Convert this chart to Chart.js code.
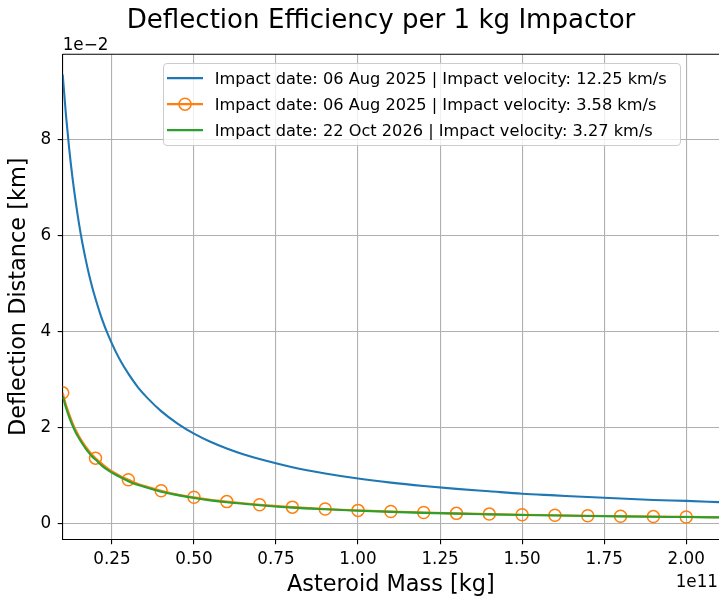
<!DOCTYPE html>
<html>
<head>
<meta charset="utf-8">
<script src="https://cdn.jsdelivr.net/npm/chart.js@4.4.1/dist/chart.umd.min.js"></script>
<style>
  html, body { margin: 0; padding: 0; background: #ffffff; overflow: hidden; }
  #wrap { position: relative; width: 719px; height: 598px; font-family: 'DejaVu Sans', sans-serif; color: #000; }
  #c { position: absolute; left: 0; top: 0; }
  #legend { position: absolute; left: 162.7px; top: 63.3px; width: 518px; height: 82.4px; box-sizing: border-box;
            border: 1px solid #cccccc; border-radius: 4px; background: rgba(255,255,255,0.8); }
  .row { position: absolute; left: 0; height: 26.3px; width: 100%; }
  .row svg { position: absolute; left: 3.6px; top: 0; }
  .row span { position: absolute; left: 51px; top: 0; line-height: 26.3px; font-size: 16.2px; white-space: nowrap; }
  .off { position: absolute; font-size: 16.8px; line-height: 16.8px; white-space: nowrap; }
</style>
</head>
<body>
<div id="wrap">
  <canvas id="c" width="719" height="598"></canvas>
  <div id="legend"></div>
  <div class="off" id="yoff" style="left:62.7px; top:35.8px;">1e−2</div>
  <div class="off" id="xoff" style="right:1px; top:572.9px;">1e11</div>
</div>
<script>
// ---- Data (x in units of 1e11 kg, y in units of 1e-2 km) ----
const massE11 = [0.10, 0.11, 0.12, 0.13, 0.14, 0.15, 0.16, 0.17, 0.18, 0.19, 0.20, 0.22, 0.24, 0.26, 0.28, 0.30,
                 0.33, 0.36, 0.40, 0.45, 0.50, 0.55, 0.60, 0.65, 0.70, 0.80, 0.90, 1.00, 1.10, 1.20, 1.30, 1.40,
                 1.50, 1.60, 1.70, 1.80, 1.90, 2.00, 2.10];
const blueDeflE2 = [9.35, 8.50, 7.79, 7.19, 6.68, 6.23, 5.84, 5.50, 5.19, 4.92, 4.68, 4.25, 3.90, 3.60, 3.34, 3.12,
                    2.83, 2.60, 2.34, 2.08, 1.87, 1.70, 1.56, 1.44, 1.34, 1.17, 1.04, 0.935, 0.85, 0.78, 0.72, 0.67,
                    0.62, 0.585, 0.55, 0.52, 0.49, 0.47, 0.445];
const orangeDeflE2 = [2.72, 2.47, 2.27, 2.09, 1.94, 1.81, 1.70, 1.60, 1.51, 1.43, 1.36, 1.24, 1.13, 1.05, 0.97, 0.91,
                      0.82, 0.76, 0.68, 0.60, 0.545, 0.495, 0.455, 0.42, 0.39, 0.34, 0.30, 0.272, 0.248, 0.227, 0.21, 0.195,
                      0.182, 0.17, 0.16, 0.151, 0.143, 0.136, 0.13];
const greenDeflE2 = [2.65, 2.41, 2.21, 2.04, 1.89, 1.77, 1.66, 1.56, 1.47, 1.39, 1.33, 1.20, 1.10, 1.02, 0.95, 0.88,
                     0.80, 0.74, 0.66, 0.59, 0.53, 0.48, 0.44, 0.41, 0.38, 0.33, 0.295, 0.265, 0.241, 0.221, 0.204, 0.19,
                     0.177, 0.166, 0.156, 0.147, 0.139, 0.133, 0.126];
const orangeMarkerMass = [0.1, 0.2, 0.3, 0.4, 0.5, 0.6, 0.7, 0.8, 0.9, 1.0, 1.1, 1.2, 1.3, 1.4, 1.5, 1.6, 1.7, 1.8, 1.9, 2.0];
const seriesLabels = [
  'Impact date: 06 Aug 2025 | Impact velocity: 12.25 km/s',
  'Impact date: 06 Aug 2025 | Impact velocity: 3.58 km/s',
  'Impact date: 22 Oct 2026 | Impact velocity: 3.27 km/s'
];
const xTickValues = [0.25, 0.50, 0.75, 1.00, 1.25, 1.50, 1.75, 2.00];
const yTickValues = [0, 2, 4, 6, 8];
const chartTitle = 'Deflection Efficiency per 1 kg Impactor';
const xTitle = 'Asteroid Mass [kg]';
const yTitle = 'Deflection Distance [km]';

// ---- Build ----
const colors = ['#1f77b4', '#ff7f0e', '#2ca02c'];
const FONT = "'DejaVu Sans', sans-serif";
const toPts = (ys) => massE11.map((m, i) => ({ x: m, y: ys[i] }));
const isMarker = (x) => orangeMarkerMass.some(v => Math.abs(v - x) < 1e-9);

const framePlugin = {
  id: 'frame',
  afterLayout(chart) {
    if (chart.titleBlock) { chart.titleBlock.left = 43; }
  },
  afterDraw(chart) {
    const { ctx, chartArea } = chart;
    ctx.save();
    ctx.strokeStyle = '#000';
    ctx.lineWidth = 1.1;
    ctx.beginPath();
    ctx.moveTo(chartArea.left, chartArea.top);
    ctx.lineTo(chartArea.right, chartArea.top);
    ctx.stroke();
    ctx.restore();
  }
};

Chart.defaults.font.family = FONT;
Chart.defaults.color = '#000';

const tickFont = { family: FONT, size: 16.8, weight: 'normal', lineHeight: 1.2 };

const chart = new Chart(document.getElementById('c'), {
  type: 'line',
  data: {
    datasets: [
      { label: seriesLabels[0], data: toPts(blueDeflE2), borderColor: colors[0], backgroundColor: colors[0],
        borderWidth: 2.1, pointRadius: 0, order: 3, clip: 0, cubicInterpolationMode: 'monotone', fill: false },
      { label: seriesLabels[1], data: toPts(orangeDeflE2), borderColor: colors[1], backgroundColor: colors[1],
        borderWidth: 2.1, order: 2, clip: 0, cubicInterpolationMode: 'monotone', fill: false,
        pointRadius: (c) => (c.raw && isMarker(c.raw.x)) ? 6 : 0,
        pointBorderWidth: 1.5, pointBorderColor: colors[1], pointBackgroundColor: 'rgba(0,0,0,0)' },
      { label: seriesLabels[2], data: toPts(greenDeflE2), borderColor: colors[2], backgroundColor: colors[2],
        borderWidth: 2.1, pointRadius: 0, order: 1, clip: 0, cubicInterpolationMode: 'monotone', fill: false }
    ]
  },
  options: {
    responsive: false,
    animation: false,
    devicePixelRatio: 1,
    events: [],
    layout: { padding: 0, autoPadding: false },
    plugins: {
      legend: { display: false },
      tooltip: { enabled: false },
      title: { display: true, text: chartTitle, color: '#000',
               font: { family: FONT, size: 26.1, weight: 'normal', lineHeight: 1.2 },
               padding: { top: 5.3, bottom: 17.7 } }
    },
    scales: {
      x: {
        type: 'linear', min: 0.1, max: 2.1,
        afterBuildTicks: (s) => { s.ticks = xTickValues.map(v => ({ value: v })); },
        afterFit: (s) => { s.height = 58.7; },
        ticks: { callback: (v) => Number(v).toFixed(2), font: tickFont, padding: 4.8, color: '#000',
                 maxRotation: 0, autoSkip: false },
        grid: { color: '#b0b0b0', lineWidth: 1.1, tickColor: '#000', tickLength: 5, tickWidth: 1.1 },
        border: { color: '#000', width: 1.1 },
        title: { display: true, text: xTitle, color: '#000', font: { family: FONT, size: 22.4, lineHeight: 1 },
                 padding: { top: 5.4, bottom: 1.8 } }
      },
      y: {
        type: 'linear', min: -0.33, max: 9.77,
        afterBuildTicks: (s) => { s.ticks = yTickValues.map(v => ({ value: v })); },
        afterFit: (s) => { s.width = 62.7; },
        ticks: { callback: (v) => String(Math.round(v)), font: tickFont, padding: 6.5, color: '#000' },
        grid: { color: '#b0b0b0', lineWidth: 1.1, tickColor: '#000', tickLength: 5, tickWidth: 1.1 },
        border: { color: '#000', width: 1.1 },
        title: { display: true, text: yTitle, color: '#000', font: { family: FONT, size: 22.4, lineHeight: 1 },
                 padding: { top: 8, bottom: 11.6 } }
      }
    }
  },
  plugins: [framePlugin]
});

// ---- Legend (HTML, built from the dataset labels) ----
const legend = document.getElementById('legend');
seriesLabels.forEach((lab, i) => {
  const row = document.createElement('div');
  row.className = 'row';
  row.style.top = (1.25 + i * 26.3) + 'px';
  const cy = 12.15;
  let svg = `<svg width="36" height="26.3" viewBox="0 0 36 26.3"><line x1="0" y1="${cy}" x2="36" y2="${cy}" stroke="${colors[i]}" stroke-width="2.1"/>`;
  if (i === 1) svg += `<circle cx="18" cy="${cy}" r="6" fill="none" stroke="${colors[i]}" stroke-width="1.5"/>`;
  svg += `</svg>`;
  row.innerHTML = svg + `<span></span>`;
  row.querySelector('span').textContent = lab;
  legend.appendChild(row);
});
</script>
</body>
</html>
